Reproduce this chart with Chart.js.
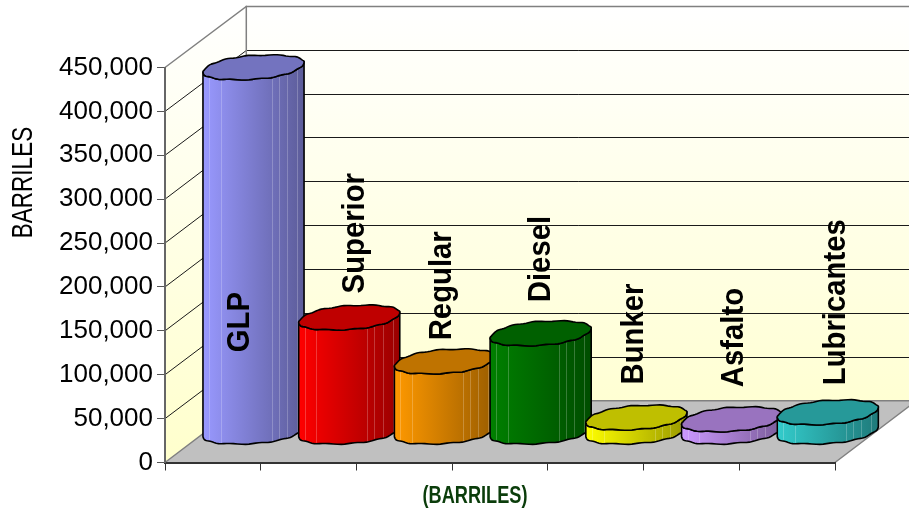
<!DOCTYPE html>
<html>
<head>
<meta charset="utf-8">
<style>html,body{margin:0;padding:0;background:#fff}canvas{display:block}</style>
<script src="https://cdn.jsdelivr.net/npm/chart.js@4/dist/chart.umd.min.js"></script>
</head>
<body>
<canvas id="c" width="909" height="510"></canvas>
<script>
const categories = ['GLP','Superior','Regular','Diesel','Bunker','Asfalto','Lubricantes'];
const barriles = [415000,130000,80000,112000,16000,14000,22000];
const barColors = ['#9999FF','#FF0000','#FF9900','#008000','#FFFF00','#CC99FF','#33CCCC'];
const yTitle = 'BARRILES';
const xTitle = '(BARRILES)';

// label offsets from each bar's tip (px): [right of category centre, below bar top]
const labelOffsets = [[36,254],[55.5,-55],[47,-52],[50,-62],[47,-64],[52,-63],[58,-58]];
const DEPTH = {x:81.3, y:61.7};
const FOOT = 0.2;              // ellipse depth as share of the full floor depth
const FACETS = [.06,.175,.68,.75,.83,.93];
const STEPS = 96;

function shade(hex,f){
  const n=parseInt(hex.slice(1),16);
  const c=[n>>16&255,n>>8&255,n&255].map(v=>Math.round(v*f));
  return `rgb(${c[0]},${c[1]},${c[2]})`;
}
function stretchedText(ctx,txt,x,y,font,along,color,align,rot){
  ctx.save();
  ctx.translate(x,y);
  if(rot) ctx.rotate(-Math.PI/2);
  ctx.scale(along,1);
  ctx.font=font; ctx.fillStyle=color; ctx.textAlign=align; ctx.textBaseline='alphabetic';
  ctx.fillText(txt,0,0);
  ctx.restore();
}
// outline of the cylinder's sheared, slightly faceted cross-section, relative to its centre
function footprint(rw,sx,sy){
  const pow=(v)=>Math.sign(v)*Math.pow(Math.abs(v),.88);
  const raw=[];
  for(let k=0;k<STEPS;k++){
    const t=2*Math.PI*k/STEPS, c=pow(Math.cos(t)), s=pow(Math.sin(t));
    raw.push([rw*c+sx*s, -sy*s+.45*Math.sin(12*t)]);
  }
  const xs=raw.map(p=>p[0]);
  const lo=Math.min(...xs), hi=Math.max(...xs);
  const half=Math.hypot(rw,sx), f=2*half/(hi-lo), mid=(hi+lo)/2;
  return raw.map(p=>[(p[0]-mid)*f,p[1]]);
}

const scene3d = {
  id:'scene3d',
  beforeDraw(chart){
    const {ctx,chartArea:a,scales:{y}}=chart;
    const dx=DEPTH.x, dy=DEPTH.y;
    ctx.save();
    ctx.fillStyle='#fff'; ctx.fillRect(0,0,chart.width,chart.height);
    const g=ctx.createLinearGradient(0,a.top-dy,0,a.bottom);
    g.addColorStop(0,'#FFFFFF'); g.addColorStop(1,'#FFFFCC');
    ctx.fillStyle=g;
    ctx.fillRect(a.left+dx,a.top-dy,a.right+dx-(a.left+dx),a.bottom-a.top);
    ctx.beginPath();
    ctx.moveTo(a.left,a.bottom);ctx.lineTo(a.left,a.top);ctx.lineTo(a.left+dx,a.top-dy);ctx.lineTo(a.left+dx,a.bottom-dy);ctx.closePath();
    ctx.fill();
    ctx.fillStyle='#C0C0C0';
    ctx.beginPath();
    ctx.moveTo(a.left,a.bottom);ctx.lineTo(a.left+dx,a.bottom-dy);ctx.lineTo(a.right+dx,a.bottom-dy);ctx.lineTo(a.right,a.bottom);ctx.closePath();
    ctx.fill();
    y.ticks.forEach(t=>{
      const py=y.getPixelForValue(t.value);
      if(t.value===0) return;
      const by=Math.round(py-dy)+.5;
      ctx.strokeStyle= t.value===y.max ? '#808080' : '#1a1a1a';
      ctx.lineWidth= t.value===y.max ? 1.5 : 1;
      ctx.beginPath();
      ctx.moveTo(a.left,py);ctx.lineTo(a.left+dx,by);ctx.lineTo(a.right+dx,by);
      ctx.stroke();
    });
    ctx.strokeStyle='#808080'; ctx.lineWidth=1.5;
    ctx.beginPath();
    ctx.moveTo(a.left+dx,a.top-dy);ctx.lineTo(a.left+dx,a.bottom-dy);
    ctx.lineTo(a.left,a.bottom);
    ctx.moveTo(a.left+dx,a.bottom-dy);ctx.lineTo(a.right+dx,a.bottom-dy);
    ctx.moveTo(a.right,a.bottom);ctx.lineTo(a.right+dx,a.bottom-dy);
    ctx.stroke();
    ctx.restore();
  },
  beforeDatasetDraw(chart,args){
    const {ctx,scales:{y}}=chart;
    const y0=y.getPixelForValue(0);
    const colors=chart.data.datasets[args.index].backgroundColor;
    args.meta.data.forEach((bar,i)=>{
      const rw=bar.width/2, sx=FOOT*DEPTH.x, sy=FOOT*DEPTH.y;
      const cx=bar.x+DEPTH.x/2;
      const topY=bar.y-DEPTH.y/2, baseY=y0-DEPTH.y/2;
      const pts=footprint(rw,sx,sy);
      let iMin=0,iMax=0;
      pts.forEach((p,k)=>{if(p[0]<pts[iMin][0])iMin=k;if(p[0]>pts[iMax][0])iMax=k;});
      const front=[];
      for(let k=iMin;;k=(k+1)%STEPS){front.push(pts[k]);if(k===iMax)break;}
      const xMin=cx+pts[iMin][0], xMax=cx+pts[iMax][0];
      ctx.save();
      ctx.lineJoin='round'; ctx.strokeStyle='#000'; ctx.lineWidth=1.6;
      const g=ctx.createLinearGradient(xMin,0,xMax,0);
      g.addColorStop(0,colors[i]); g.addColorStop(1,shade(colors[i],.6));
      ctx.fillStyle=g;
      ctx.beginPath();
      front.forEach((p,k)=>{k?ctx.lineTo(cx+p[0],baseY+p[1]):ctx.moveTo(cx+p[0],baseY+p[1]);});
      for(let k=front.length-1;k>=0;k--)ctx.lineTo(cx+front[k][0],topY+front[k][1]);
      ctx.closePath(); ctx.fill(); ctx.stroke();
      ctx.strokeStyle='rgba(255,255,255,.22)'; ctx.lineWidth=1;
      FACETS.forEach(f=>{
        const fx=f*(xMax-xMin)+xMin-cx;
        let best=front[0];
        front.forEach(p=>{if(Math.abs(p[0]-fx)<Math.abs(best[0]-fx))best=p;});
        const lx=Math.round(cx+fx)+.5;
        ctx.beginPath();
        ctx.moveTo(lx,topY+best[1]+1);ctx.lineTo(lx,baseY+best[1]-1);
        ctx.stroke();
      });
      ctx.strokeStyle='#000'; ctx.lineWidth=1.6;
      ctx.fillStyle=shade(colors[i],.75);
      ctx.beginPath();
      pts.forEach((p,k)=>{k?ctx.lineTo(cx+p[0],topY+p[1]):ctx.moveTo(cx+p[0],topY+p[1]);});
      ctx.closePath(); ctx.fill(); ctx.stroke();
      ctx.restore();
    });
    return false;
  },
  afterDatasetsDraw(chart){
    const {ctx}=chart;
    const meta=chart.getDatasetMeta(0);
    meta.data.forEach((bar,i)=>{
      const o=labelOffsets[i];
      stretchedText(ctx,chart.data.labels[i],bar.x+o[0],bar.y+o[1],'bold 30.5px "Liberation Sans"',.96,'#000','left',true);
    });
    stretchedText(ctx,chart.options.scales.y.title.text,32,182.5,'30px "Liberation Sans"',.75,'#000','center',true);
    stretchedText(ctx,chart.options.scales.x.title.text,475,503,'bold 23px "Liberation Sans"',.79,'#0B3D0B','center',false);
  }
};

new Chart(document.getElementById('c'),{
  type:'bar',
  data:{labels:categories,datasets:[{label:yTitle,data:barriles,backgroundColor:barColors,barPercentage:1,categoryPercentage:1}]},
  plugins:[scene3d],
  options:{
    responsive:false,animation:false,devicePixelRatio:1,
    layout:{padding:{top:67.5,right:74,bottom:39.5,left:0}},
    plugins:{legend:{display:false},tooltip:{enabled:false},title:{display:false}},
    scales:{
      x:{
        title:{display:false,text:xTitle},
        grid:{display:true,drawOnChartArea:false,offset:true,tickLength:8,color:'#333',lineWidth:1},
        border:{display:true,color:'#333',width:2},
        ticks:{display:false}
      },
      y:{
        min:0,max:450000,
        title:{display:false,text:yTitle},
        afterFit(s){s.width=165;},
        grid:{display:true,drawOnChartArea:false,tickLength:8,color:'#555',lineWidth:1},
        border:{display:true,color:'#666',width:2},
        ticks:{stepSize:50000,padding:4,color:'#000',font:{family:'"Liberation Sans"',size:26},
          callback:v=>v.toLocaleString('en-US')}
      }
    }
  }
});
</script>
</body>
</html>
